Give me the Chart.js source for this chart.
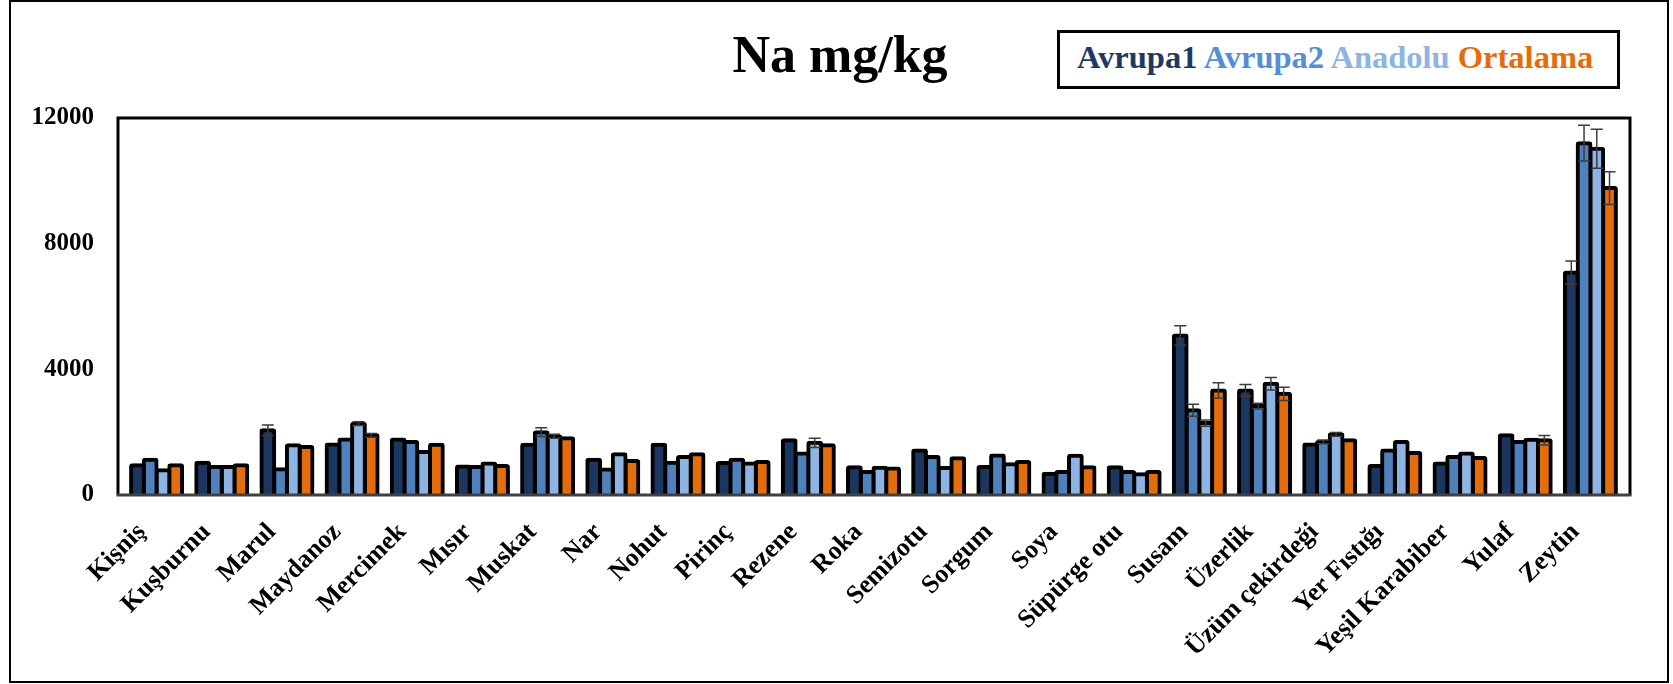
<!DOCTYPE html>
<html>
<head>
<meta charset="utf-8">
<script src="https://cdn.jsdelivr.net/npm/chart.js@4.4.1/dist/chart.umd.min.js"></script>
<style>
  html, body { margin: 0; padding: 0; background: #fff; }
  #wrap { position: relative; width: 1673px; height: 684px; overflow: hidden; background: #fff; }
  #frame { position: absolute; left: 9px; top: 0; width: 1660px; height: 683px; border: 2px solid #000; box-sizing: border-box; }
  #title { position: absolute; left: 640px; top: 29px; width: 400px; text-align: center;
           font: bold 52px/52px "Liberation Serif", "Times New Roman", serif; color: #000; white-space: nowrap; }
  #legend { position: absolute; left: 1057px; top: 30px; width: 563px; height: 59px; border: 3px solid #000; box-sizing: border-box; background: #fff; }
  #legend .t { position: absolute; left: 17px; top: 8px; font: bold 32.5px/32px "Liberation Serif", "Times New Roman", serif; white-space: nowrap; }
  canvas { position: absolute; left: 0; top: 0; }
</style>
</head>
<body>
<div id="wrap">
  <div id="frame"></div>
  <canvas id="c" width="1673" height="684"></canvas>
  <div id="title">Na mg/kg</div>
  <div id="legend"><div class="t" id="legendText"></div></div>
</div>
<script>
// Sodium content (mg/kg) per sample, three sources plus their average
const categories = ['Kişniş', 'Kuşburnu', 'Marul', 'Maydanoz', 'Mercimek', 'Mısır', 'Muskat', 'Nar', 'Nohut', 'Pirinç',
  'Rezene', 'Roka', 'Semizotu', 'Sorgum', 'Soya', 'Süpürge otu', 'Susam', 'Üzerlik', 'Üzüm çekirdeği', 'Yer Fıstığı',
  'Yeşil Karabiber', 'Yulaf', 'Zeytin'];

const avrupa1  = [950, 1030, 2060, 1610, 1770, 910, 1600, 1120, 1600, 1020, 1740, 880, 1420, 890, 680, 880, 5080, 3330, 1610, 920, 1000, 1900, 7080];
const avrupa2  = [1120, 890, 820, 1770, 1690, 890, 2000, 810, 1030, 1120, 1320, 730, 1210, 1260, 730, 730, 2700, 2830, 1690, 1420, 1210, 1690, 11200];
const anadolu  = [790, 890, 1580, 2270, 1370, 1000, 1870, 1300, 1210, 1000, 1660, 870, 860, 980, 1250, 660, 2290, 3540, 1930, 1690, 1320, 1760, 11020];
const ortalama = [950, 950, 1530, 1900, 1600, 920, 1810, 1080, 1300, 1050, 1580, 840, 1170, 1050, 880, 730, 3330, 3220, 1740, 1340, 1180, 1740, 9770];

// Standard deviations (0 = no error bar shown)
const errAvrupa1  = [0, 0, 170, 0, 0, 0, 0, 0, 0, 0, 0, 0, 0, 0, 0, 0, 310, 190, 0, 0, 0, 0, 370];
const errAvrupa2  = [0, 0, 0, 0, 0, 0, 140, 0, 0, 0, 0, 0, 0, 0, 0, 0, 190, 90, 60, 0, 0, 0, 570];
const errAnadolu  = [0, 0, 0, 60, 0, 0, 60, 0, 0, 0, 150, 0, 0, 0, 0, 0, 100, 200, 60, 0, 0, 0, 620];
const errOrtalama = [0, 0, 0, 60, 0, 0, 0, 0, 0, 0, 0, 0, 0, 0, 0, 0, 240, 210, 0, 0, 0, 150, 520];

const seriesNames  = ['Avrupa1', 'Avrupa2', 'Anadolu', 'Ortalama'];
const seriesValues = [avrupa1, avrupa2, anadolu, ortalama];
const seriesErrors = [errAvrupa1, errAvrupa2, errAnadolu, errOrtalama];
const barColors    = ['#1B375F', '#4F81BD', '#8DB4E2', '#E46C0A'];
const legendColors = ['#1F3864', '#558ED5', '#8DB4E2', '#E46C0A'];
const yTicks = [0, 4000, 8000, 12000];

const serif = '"Liberation Serif", "Times New Roman", serif';

// Legend line: coloured series names
const lt = document.getElementById('legendText');
seriesNames.forEach((n, i) => {
  const s = document.createElement('span');
  s.textContent = n;
  s.style.color = legendColors[i];
  lt.appendChild(s);
  if (i < seriesNames.length - 1) lt.appendChild(document.createTextNode(' '));
});

// Symmetric error bars with caps, centred on each bar
const errorBars = {
  id: 'errorBars',
  afterDatasetsDraw(chart) {
    const ctx = chart.ctx;
    const y = chart.scales.y;
    ctx.save();
    ctx.strokeStyle = '#3c3c3c';
    ctx.lineWidth = 1.5;
    chart.data.datasets.forEach((ds, di) => {
      const meta = chart.getDatasetMeta(di);
      meta.data.forEach((bar, i) => {
        const e = ds.errors[i];
        if (!e) return;
        const v = ds.data[i];
        const yt = y.getPixelForValue(v + e);
        const yb = y.getPixelForValue(v - e);
        const cx = bar.x, hw = 6;
        ctx.beginPath();
        ctx.moveTo(cx, yt); ctx.lineTo(cx, yb);
        ctx.moveTo(cx - hw, yt); ctx.lineTo(cx + hw, yt);
        ctx.moveTo(cx - hw, yb); ctx.lineTo(cx + hw, yb);
        ctx.stroke();
      });
    });
    ctx.restore();
  }
};

// Plot box: black on top and sides, dark grey baseline
const plotFrame = {
  id: 'plotFrame',
  afterDraw(chart) {
    const { left, right, top, bottom } = chart.chartArea;
    const ctx = chart.ctx;
    const l = left - 6, r = right + 7;
    ctx.save();
    ctx.lineWidth = 3;
    ctx.strokeStyle = '#000';
    ctx.beginPath();
    ctx.moveTo(l, bottom); ctx.lineTo(l, top); ctx.lineTo(r, top); ctx.lineTo(r, bottom);
    ctx.stroke();
    ctx.strokeStyle = '#404040';
    ctx.beginPath();
    ctx.moveTo(l - 1.5, bottom); ctx.lineTo(r + 1.5, bottom);
    ctx.stroke();
    ctx.restore();
  }
};

new Chart(document.getElementById('c').getContext('2d'), {
  type: 'bar',
  data: {
    labels: categories,
    datasets: seriesValues.map((vals, i) => ({
      label: seriesNames[i],
      data: vals,
      errors: seriesErrors[i],
      backgroundColor: barColors[i],
      borderColor: '#000',
      borderWidth: 4,
      inflateAmount: 2,
      borderSkipped: 'start',
      borderRadius: { topLeft: 3, topRight: 3, bottomLeft: 0, bottomRight: 0 },
      categoryPercentage: 0.782,
      barPercentage: 1
    }))
  },
  options: {
    responsive: false,
    animation: false,
    devicePixelRatio: 1,
    layout: { padding: { left: 0, right: 50, top: 118, bottom: 0 } },
    plugins: { legend: { display: false }, title: { display: false }, tooltip: { enabled: false } },
    scales: {
      x: {
        grid: { display: false, drawTicks: false },
        border: { display: false },
        ticks: {
          autoSkip: false, maxRotation: 45, minRotation: 45, padding: 22, labelOffset: -15,
          color: '#000', font: { family: serif, size: 26, weight: 'bold' }
        },
        afterFit(s) { s.height = 189; }
      },
      y: {
        min: 0, max: 12000,
        afterBuildTicks(s) { s.ticks = yTicks.map(v => ({ value: v })); },
        grid: { display: false, drawTicks: false },
        border: { display: false },
        ticks: {
          padding: 30, color: '#000', font: { family: serif, size: 25, weight: 'bold' },
          callback: v => String(v)
        },
        afterFit(s) { s.width = 124; }
      }
    }
  },
  plugins: [errorBars, plotFrame]
});
</script>
</body>
</html>
